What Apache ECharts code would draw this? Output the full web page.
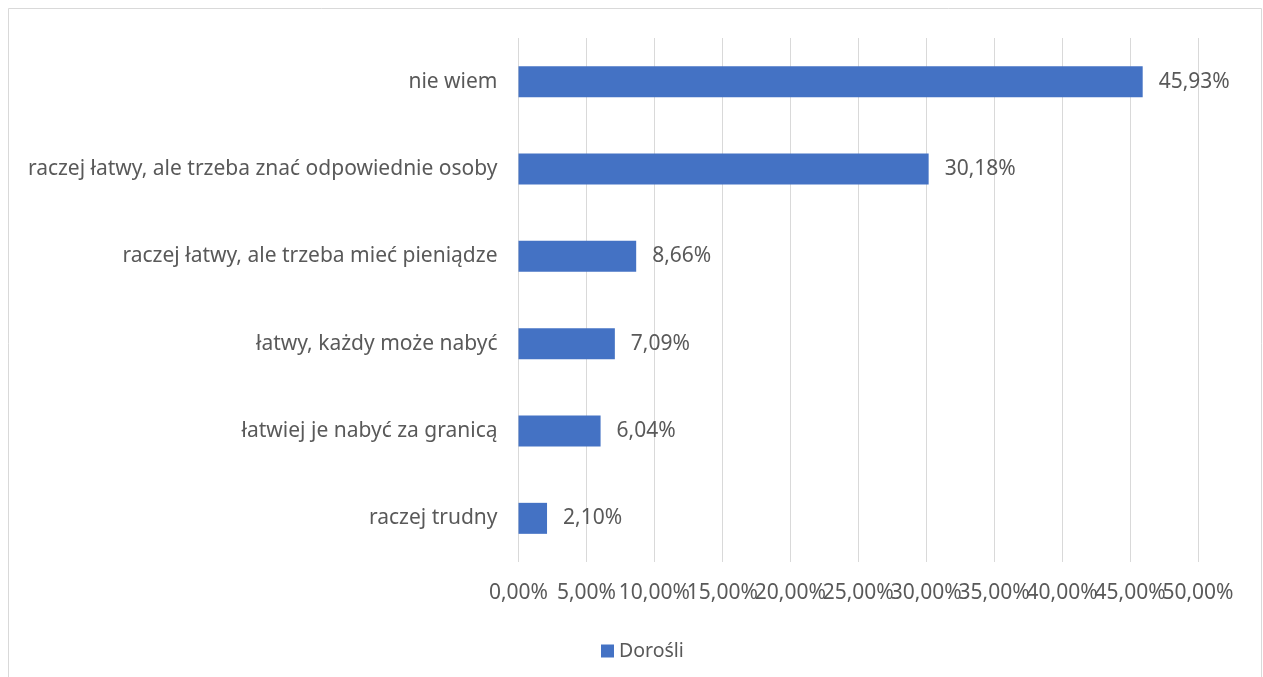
<!DOCTYPE html>
<html>
<head>
<meta charset="utf-8">
<script src="https://cdn.jsdelivr.net/npm/echarts@6/dist/echarts.min.js"></script>
<style>
html,body{margin:0;padding:0;background:#fff;}
#c{width:1263px;height:677px;}
</style>
</head>
<body>
<div id="c"></div>
<script>
const categories = ["nie wiem", "raczej łatwy, ale trzeba znać odpowiednie osoby", "raczej łatwy, ale trzeba mieć pieniądze", "łatwy, każdy może nabyć", "łatwiej je nabyć za granicą", "raczej trudny"];
const values = [45.93, 30.18, 8.66, 7.09, 6.04, 2.10];
const seriesName = "Dorośli";
const axisMax = 50;
const axisStep = 5;

const fmt = v => v.toFixed(2).replace('.', ',') + '%';
const FONT = 'Noto Sans';
const TXT = '#595959';
const labelBase = {color: TXT, fontFamily: FONT, fontSize: 21, margin: 21,
  showMinLabel: true, showMaxLabel: true, hideOverlap: false, interval: 0};

const chart = echarts.init(document.getElementById('c'), null, {renderer: 'canvas'});
chart.setOption({
  animation: false,
  backgroundColor: '#fff',
  graphic: [{
    type: 'rect', silent: true,
    shape: {x: 8.5, y: 8.5, width: 1253, height: 700},
    style: {fill: 'none', stroke: '#d9d9d9', lineWidth: 1}
  }],
  grid: {left: 518.5, right: 65, top: 38, height: 524, containLabel: false},
  legend: {
    data: [seriesName],
    left: 596, top: 636,
    itemWidth: 13, itemHeight: 13, icon: 'rect', itemGap: 6,
    textStyle: {color: TXT, fontFamily: FONT, fontSize: 19.5}
  },
  xAxis: [{
    type: 'value', min: 0, max: axisMax, interval: axisStep, position: 'bottom',
    axisLine: {show: false}, axisTick: {show: false},
    splitLine: {show: true, lineStyle: {color: '#d9d9d9', width: 1}},
    axisLabel: Object.assign({}, labelBase, {formatter: v => v === axisMax ? '' : fmt(v)})
  }, {
    type: 'value', min: 0, max: axisMax, interval: axisStep, position: 'bottom', offset: 0,
    axisLine: {show: false}, axisTick: {show: false}, splitLine: {show: false},
    axisLabel: Object.assign({}, labelBase, {formatter: v => v === axisMax ? fmt(v) : ''})
  }],
  yAxis: {
    type: 'category', data: categories, inverse: true,
    axisLine: {show: false}, axisTick: {show: false},
    axisLabel: {color: TXT, fontFamily: FONT, fontSize: 21, margin: 21}
  },
  series: [{
    name: seriesName, type: 'bar', data: values, barWidth: 31, xAxisIndex: 0,
    itemStyle: {color: '#4472c4'},
    label: {show: true, position: 'right', distance: 16, formatter: p => fmt(p.value), color: TXT, fontFamily: FONT, fontSize: 21}
  }]
});
</script>
</body>
</html>
